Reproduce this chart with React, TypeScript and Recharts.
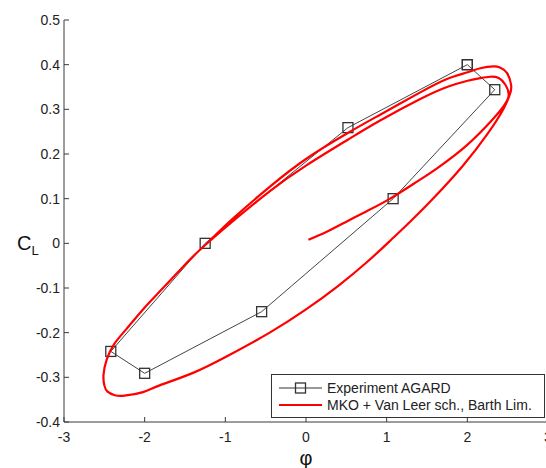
import { ScatterChart, Scatter, XAxis, YAxis, Legend } from 'recharts'

// experiment AGARD points (phi in deg, CL)
const expPhi = [2.0, 2.34, 1.08, -0.55, -2.0, -2.42, -1.25, 0.52, 2.0]
const expCl = [0.4, 0.344, 0.1, -0.153, -0.291, -0.242, 0.0, 0.259, 0.4]

// MKO + Van Leer, Barth limiter (start-up transient + ~1.5 cycles)
const simPhi = [
  0.03, 0.257, 0.506, 0.754, 1.043, 1.375, 1.624, 1.996, 2.327, 2.506,
  2.472, 2.389, 2.286, 2.161, 2.004, 1.748, 1.416, 0.919, 0.518, 0.009,
  -0.447, -0.903, -1.317, -1.565, -1.814, -2.021, -2.227, -2.38, -2.47, -2.51,
  -2.5, -2.46, -2.37, -2.25, -2.02, -1.814, -1.4, -0.95, -0.45, 0.0,
  0.4, 0.75, 1.05, 1.3, 1.6, 1.95, 2.25, 2.451, 2.53, 2.543,
  2.493, 2.41, 2.327, 2.161, 2.004, 1.748, 1.416, 0.919, 0.518, 0.009,
  -0.447, -0.903, -1.193,
]
const simCl = [
  0.008, 0.026, 0.049, 0.072, 0.1, 0.138, 0.168, 0.22, 0.28, 0.325,
  0.355, 0.37, 0.373, 0.37, 0.364, 0.35, 0.323, 0.275, 0.232, 0.175,
  0.117, 0.05, -0.015, -0.06, -0.108, -0.148, -0.192, -0.226, -0.26, -0.294,
  -0.318, -0.332, -0.34, -0.341, -0.333, -0.318, -0.29, -0.25, -0.2, -0.148,
  -0.095, -0.043, 0.007, 0.05, 0.105, 0.175, 0.245, 0.302, 0.335, 0.354,
  0.381, 0.393, 0.396, 0.392, 0.383, 0.368, 0.338, 0.288, 0.247, 0.19,
  0.127, 0.056, 0.006,
]

const phiTicks = [-3, -2, -1, 0, 1, 2, 3]
const clTicks = [-0.4, -0.3, -0.2, -0.1, 0, 0.1, 0.2, 0.3, 0.4, 0.5]

const expData = expPhi.map((phi, i) => ({ phi, cl: expCl[i] }))
const simData = simPhi.map((phi, i) => ({ phi, cl: simCl[i] }))

const FONT = '"Liberation Sans", Arial, Helvetica, sans-serif'
const AXIS = '#3a3a3a'

const fmt = (v: number) => String(Number(v.toFixed(1)))

const XTick = (props: any) => {
  const { x, y, payload } = props
  return (
    <g>
      <line x1={x} y1={y} x2={x} y2={y - 5} stroke={AXIS} />
      <text x={x} y={y + 20} textAnchor="middle" fontSize={14} fontFamily={FONT} fill="#222">
        {fmt(payload.value)}
      </text>
    </g>
  )
}

const YTick = (props: any) => {
  const { x, y, payload } = props
  return (
    <g>
      <line x1={x} y1={y} x2={x + 5} y2={y} stroke={AXIS} />
      <text x={x - 4} y={y + 5} textAnchor="end" fontSize={14} fontFamily={FONT} fill="#222">
        {fmt(payload.value)}
      </text>
    </g>
  )
}

const YLabel = () => (
  <text x={17} y={250} fontFamily={FONT} fill="#111">
    <tspan fontSize={20}>C</tspan>
    <tspan fontSize={13} dy={5}>L</tspan>
  </text>
)

const XLabel = () => (
  <text x={306} y={465} textAnchor="middle" fontSize={20} fontFamily={FONT} fill="#111">
    φ
  </text>
)

const Square = (props: any) => (
  <rect x={props.cx - 5} y={props.cy - 5} width={10} height={10} fill="none" stroke="#333" strokeWidth={1.3} />
)

const NoShape = () => <g />

const LegendBox = () => (
  <div
    style={{
      width: 274,
      height: 44,
      boxSizing: 'border-box',
      border: '1px solid #333',
      background: '#fff',
      fontFamily: FONT,
      fontSize: 14,
      color: '#222',
      paddingTop: 4,
    }}
  >
    <div style={{ display: 'flex', alignItems: 'center', height: 17 }}>
      <svg width={43} height={14} style={{ marginLeft: 7, marginRight: 5 }}>
        <line x1={0} y1={7} x2={43} y2={7} stroke="#333" />
        <rect x={16.5} y={2} width={10} height={10} fill="none" stroke="#333" strokeWidth={1.3} />
      </svg>
      <span>Experiment AGARD</span>
    </div>
    <div style={{ display: 'flex', alignItems: 'center', height: 17 }}>
      <svg width={43} height={14} style={{ marginLeft: 7, marginRight: 5 }}>
        <line x1={0} y1={7} x2={43} y2={7} stroke="#f00" strokeWidth={2} />
      </svg>
      <span>MKO + Van Leer sch., Barth Lim.</span>
    </div>
  </div>
)

export default function App() {
  return (
    <div
      style={{
        position: 'fixed',
        left: 0,
        top: 0,
        width: 546,
        height: 468,
        overflow: 'hidden',
        background: '#fff',
      }}
    >
      <ScatterChart width={560} height={468} margin={{ top: 20, right: 12, left: 0, bottom: 0 }}>
        <XAxis
          type="number"
          dataKey="phi"
          domain={[-3, 3]}
          ticks={phiTicks}
          allowDataOverflow
          height={46}
          stroke={AXIS}
          tickLine={false}
          tickSize={0}
          tickMargin={0}
          tick={<XTick />}
          label={<XLabel />}
        />
        <YAxis
          type="number"
          dataKey="cl"
          domain={[-0.4, 0.5]}
          ticks={clTicks}
          allowDataOverflow
          width={64}
          stroke={AXIS}
          tickLine={false}
          tickSize={0}
          tickMargin={0}
          tick={<YTick />}
          label={<YLabel />}
        />
        <Scatter
          name="Experiment AGARD"
          data={expData}
          line={{ stroke: '#444', strokeWidth: 1 }}
          lineType="joint"
          shape={<Square />}
          isAnimationActive={false}
        />
        <Scatter
          name="MKO + Van Leer sch., Barth Lim."
          data={simData}
          line={{ stroke: '#ff0000', strokeWidth: 2.2 }}
          lineType="joint"
          lineJointType="natural"
          shape={<NoShape />}
          isAnimationActive={false}
        />
        <Legend
          layout="horizontal"
          verticalAlign="middle"
          align="center"
          content={<LegendBox />}
          wrapperStyle={{ left: 271, top: 374, width: 274, height: 44 }}
        />
      </ScatterChart>
    </div>
  )
}
